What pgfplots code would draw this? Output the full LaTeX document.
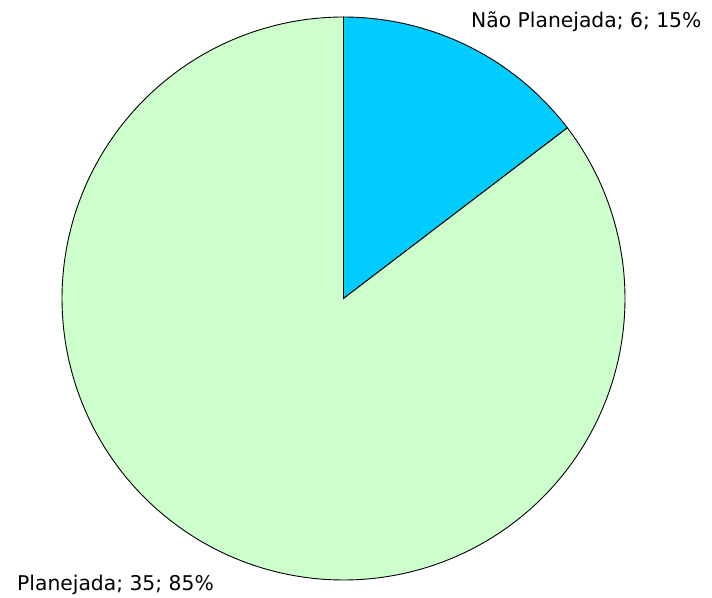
\documentclass[border=0pt]{standalone}
\usepackage{pgfplots}
\pgfplotsset{compat=1.18}
\usepackage{pgfplotstable}
\usepackage{fontspec}
\setmainfont{DejaVu Sans}

\definecolor{naoplan}{RGB}{0,204,255}
\definecolor{plan}{RGB}{204,255,204}

% slice values
\pgfplotstableread{
label value
NaoPlanejada 6
Planejada 35
}\piedata

\begin{document}
\begin{tikzpicture}
\pgfplotstablegetelem{0}{value}\of\piedata \let\va\pgfplotsretval
\pgfplotstablegetelem{1}{value}\of\piedata \let\vb\pgfplotsretval
\pgfmathsetmacro\total{\va+\vb}
\pgfmathsetmacro\angA{360*\va/\total}
\pgfmathsetmacro\endA{90-\angA}
\pgfmathsetmacro\endB{90-360}
\begin{axis}[
    x=1pt, y=1pt,
    xmin=0, xmax=712, ymin=0, ymax=597,
    hide axis, clip=false,
    scale only axis,
]
\addplot[draw=none] coordinates {(0,0) (712,597)};
% wedges (centre 343.5,298.5, radius 281.5)
\addplot[fill=naoplan, draw=black, line width=0.9pt, domain=\endA:90, samples=80, variable=\t]
    ({343.5+281.5*cos(\t)}, {298.5+281.5*sin(\t)}) -- (axis cs:343.5,298.5) -- cycle;
\addplot[fill=plan, draw=black, line width=0.9pt, domain=\endB:\endA, samples=300, variable=\t]
    ({343.5+281.5*cos(\t)}, {298.5+281.5*sin(\t)}) -- (axis cs:343.5,298.5) -- cycle;
\node[anchor=base west, inner sep=0pt, font=\fontsize{20.3}{24}\selectfont] at (axis cs:471,569) {Não Planejada; 6; 15\%};
\node[anchor=base west, inner sep=0pt, font=\fontsize{20.3}{24}\selectfont] at (axis cs:17,7) {Planejada; 35; 85\%};
\end{axis}
\end{tikzpicture}
\end{document}
